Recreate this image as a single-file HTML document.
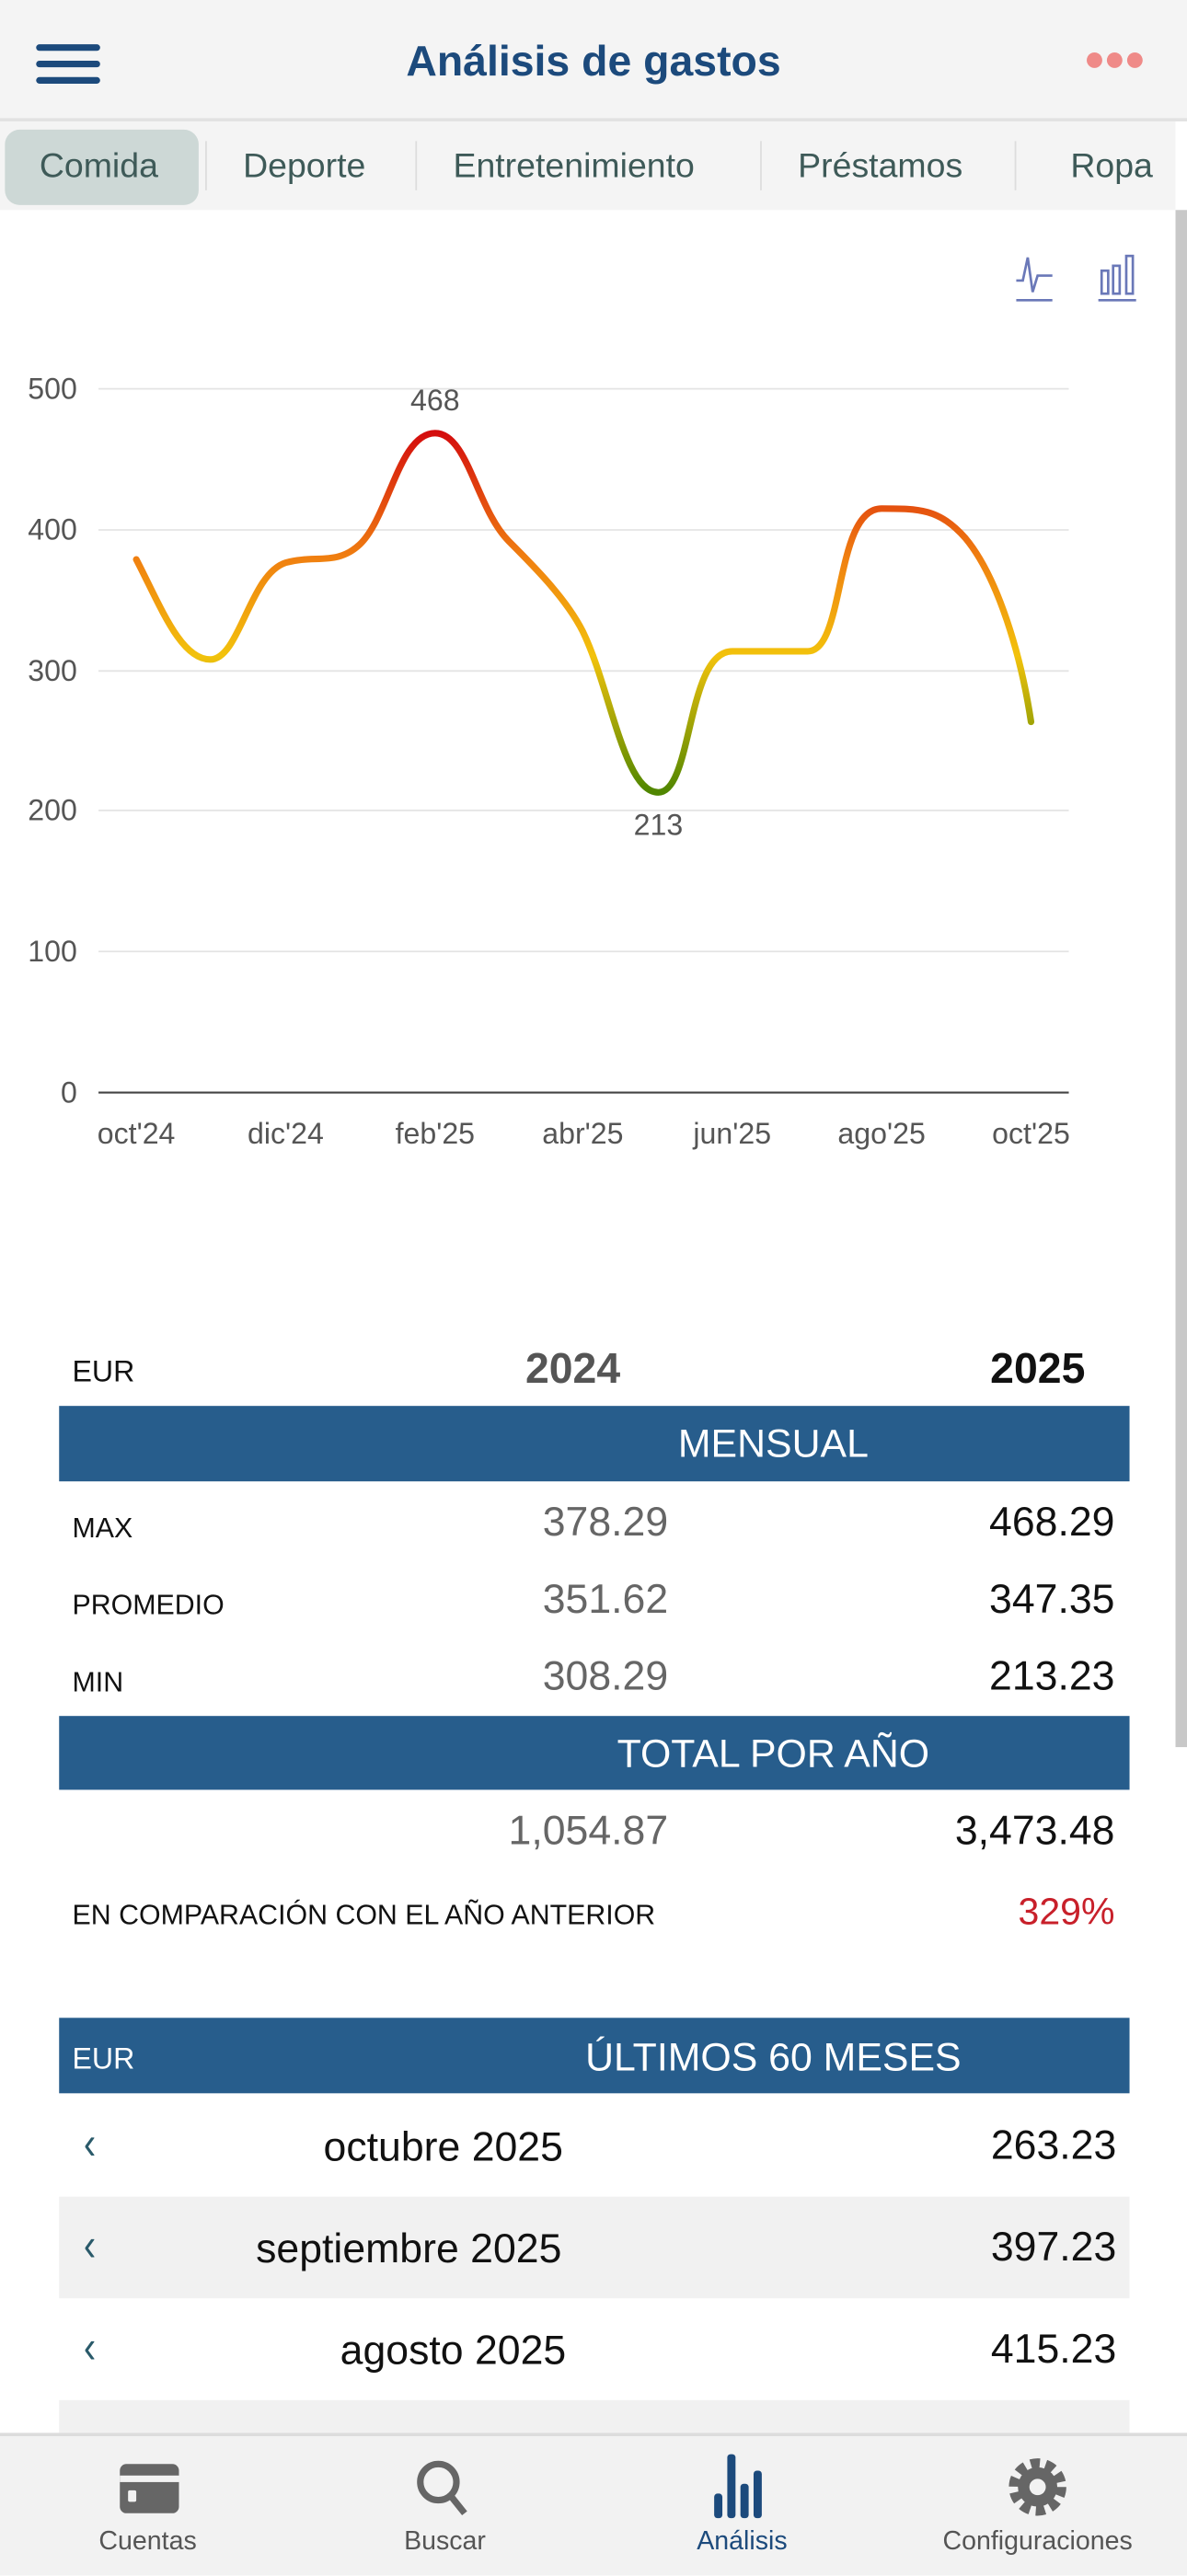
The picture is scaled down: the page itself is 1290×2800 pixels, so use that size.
<!DOCTYPE html>
<html><head><meta charset="utf-8"><style>
html,body{margin:0;padding:0;width:1290px;height:2796px;overflow:hidden;background:#fff}
#w{position:absolute;left:0;top:0;width:723px;height:1568px;transform-origin:0 0;transform:scale(1.78423,1.78316);font-family:"Liberation Sans",sans-serif}
.a{position:absolute}
.bar{position:absolute;left:36px;width:652px;background:#275d8c;color:#fff;font-size:24px}
.lab{position:absolute;left:44px;font-size:17px;color:#111}
.v1{position:absolute;right:316px;font-size:25px;color:#666}
.v2{position:absolute;right:44px;font-size:25px;color:#111}
.row{position:absolute;left:36px;width:652px;height:62px}
.chev{position:absolute;left:14px;top:14px;font-size:28px;color:#2a5a6a;transform:scaleX(0.8)}
.mon{position:absolute;left:0;width:468px;text-align:center;top:18px;font-size:25px;color:#111}
.amt{position:absolute;right:8px;top:17px;font-size:25px;color:#111}
.nav{position:absolute;top:1541px;font-size:16px;color:#555;text-align:center;width:180px}
</style></head><body><div id="w">
<div class="a" style="left:0;top:0;width:723px;height:72px;background:#f4f4f4;border-bottom:2px solid #e2e2e2"></div>
<div class="a" style="left:22px;top:27px;width:39px;height:4px;background:#1c4a7c;border-radius:2px"></div>
<div class="a" style="left:22px;top:37px;width:39px;height:4px;background:#1c4a7c;border-radius:2px"></div>
<div class="a" style="left:22px;top:47px;width:39px;height:4px;background:#1c4a7c;border-radius:2px"></div>
<div class="a" style="left:0;width:723px;top:22px;text-align:center;font-size:26px;font-weight:bold;color:#1c4a7c">Análisis de gastos</div>
<div class="a" style="left:660px;top:23px;font-size:22px;color:#ef8a88;letter-spacing:-1px">●●●</div>
<div class="a" style="left:0;top:74px;width:716px;height:54px;background:#f4f4f4"></div>
<div class="a" style="left:3px;top:79px;width:118px;height:46px;background:#cdd8d6;border-radius:9px"></div>
<div class="a" style="top:90px;left:24px;font-size:21px;color:#3e5a58">Comida</div>
<div class="a" style="top:90px;left:148px;font-size:21px;color:#3e5a58">Deporte</div>
<div class="a" style="top:90px;left:276px;font-size:21px;color:#3e5a58">Entretenimiento</div>
<div class="a" style="top:90px;left:486px;font-size:21px;color:#3e5a58">Préstamos</div>
<div class="a" style="top:90px;left:652px;font-size:21px;color:#3e5a58">Ropa</div>
<div class="a" style="left:125px;top:86px;width:1px;height:30px;background:#ddd"></div>
<div class="a" style="left:253px;top:86px;width:1px;height:30px;background:#ddd"></div>
<div class="a" style="left:463px;top:86px;width:1px;height:30px;background:#ddd"></div>
<div class="a" style="left:618px;top:86px;width:1px;height:30px;background:#ddd"></div>
<div class="a" style="left:716px;top:128px;width:7px;height:937px;background:#c8c8c8"></div>
<svg class="a" style="left:0;top:0" width="723" height="760">
<defs><linearGradient id="g" gradientUnits="userSpaceOnUse" x1="0" y1="264" x2="0" y2="483">
<stop offset="0" stop-color="#d40d0d"/><stop offset="0.35" stop-color="#f08010"/><stop offset="0.62" stop-color="#f2c20c"/><stop offset="1" stop-color="#4f8600"/></linearGradient></defs>
<g stroke="#6a78b8" stroke-width="1.5" fill="none"><path d="M619,171 L623,171 L626,157 L629,178 L632,168 L641,168"/><path d="M619,183 H641 M669,183 H692"/><rect x="671" y="165" width="4" height="14"/><rect x="678" y="162" width="4" height="17"/><rect x="686" y="156" width="4" height="23"/></g>
<g stroke="#e4e4e4" stroke-width="1"><line x1="60" y1="237" x2="651" y2="237"/><line x1="60" y1="323" x2="651" y2="323"/><line x1="60" y1="409" x2="651" y2="409"/><line x1="60" y1="494" x2="651" y2="494"/><line x1="60" y1="580" x2="651" y2="580"/></g>
<line x1="60" y1="666" x2="651" y2="666" stroke="#444" stroke-width="1.2"/>
<g font-size="18" fill="#555" text-anchor="end"><text x="47" y="243">500</text><text x="47" y="329">400</text><text x="47" y="415">300</text><text x="47" y="500">200</text><text x="47" y="586">100</text><text x="47" y="672">0</text></g>
<g font-size="18" fill="#555" text-anchor="middle"><text x="83" y="697">oct'24</text><text x="174" y="697">dic'24</text><text x="265" y="697">feb'25</text><text x="355" y="697">abr'25</text><text x="446" y="697">jun'25</text><text x="537" y="697">ago'25</text><text x="628" y="697">oct'25</text>
<text x="265" y="250">468</text><text x="401" y="509">213</text></g>
<path fill="none" stroke="url(#g)" stroke-width="4" stroke-linecap="round" d="M83,341 C98,370 110,402 128,402 C146,402 152,350 174,343 C192,338 205,345 219,332 C237,315 243,264 265,264 C285,264 290,310 310,330 C325,345 345,365 355,385 C372,420 380,483 401,483 C422,483 418,397 446,397 L492,397 C515,397 508,310 537,310 C560,310 572,310 588,328 C608,352 622,400 628,440"/>
</svg>
<div class="a" style="left:44px;top:826px;font-size:18px;color:#111">EUR</div>
<div class="a" style="left:320px;top:819px;font-size:26px;font-weight:bold;color:#555">2024</div>
<div class="a" style="right:62px;top:819px;font-size:26px;font-weight:bold;color:#111">2025</div>
<div class="bar" style="top:857px;height:46px"><div class="a" style="left:0;width:870px;text-align:center;top:10px">MENSUAL</div></div>
<div class="lab" style="top:922px">MAX</div><div class="v1" style="top:914px">378.29</div><div class="v2" style="top:914px">468.29</div>
<div class="lab" style="top:969px">PROMEDIO</div><div class="v1" style="top:961px">351.62</div><div class="v2" style="top:961px">347.35</div>
<div class="lab" style="top:1016px">MIN</div><div class="v1" style="top:1008px">308.29</div><div class="v2" style="top:1008px">213.23</div>
<div class="bar" style="top:1046px;height:45px"><div class="a" style="left:0;width:870px;text-align:center;top:10px">TOTAL POR AÑO</div></div>
<div class="v1" style="top:1102px">1,054.87</div><div class="v2" style="top:1102px">3,473.48</div>
<div class="lab" style="top:1158px">EN COMPARACIÓN CON EL AÑO ANTERIOR</div><div class="v2" style="top:1152px;color:#c8202a;font-size:23px">329%</div>
<div class="bar" style="top:1230px;height:46px"><div class="a" style="left:8px;top:15px;font-size:18px">EUR</div><div class="a" style="left:0;width:870px;text-align:center;top:11px">ÚLTIMOS 60 MESES</div></div>
<div class="row" style="top:1277px"><div class="chev">‹</div><div class="mon">octubre 2025</div><div class="amt">263.23</div></div>
<div class="row" style="top:1339px;background:#f1f1f1"><div class="chev">‹</div><div class="mon" style="left:-21px">septiembre 2025</div><div class="amt">397.23</div></div>
<div class="row" style="top:1401px"><div class="chev">‹</div><div class="mon" style="left:6px">agosto 2025</div><div class="amt">415.23</div></div>
<div class="row" style="top:1463px;height:20px;background:#f1f1f1"></div>
<div class="a" style="left:0;top:1483px;width:723px;height:85px;background:#f2f2f2;border-top:2px solid #dcdcdc"></div>
<div class="a" style="left:73px;top:1502px;width:36px;height:30px;background:#666;border-radius:4px"></div>
<div class="a" style="left:73px;top:1509px;width:36px;height:4px;background:#f2f2f2"></div>
<div class="a" style="left:78px;top:1518px;width:5px;height:7px;background:#f2f2f2;border-radius:1px"></div>
<svg class="a" style="left:250px;top:1496px" width="40" height="40"><circle cx="17" cy="17" r="11" fill="none" stroke="#666" stroke-width="4"/><line x1="25" y1="26" x2="33" y2="36" stroke="#666" stroke-width="4"/></svg>
<svg class="a" style="left:433px;top:1495px" width="40" height="45"><g fill="#1c4a7c"><rect x="2" y="25" width="5" height="15" rx="2"/><rect x="10" y="1" width="5" height="39" rx="2"/><rect x="18" y="19" width="5" height="21" rx="2"/><rect x="26" y="11" width="5" height="29" rx="2"/></g></svg>
<svg class="a" style="left:612px;top:1496px" width="40" height="40"><circle cx="20" cy="20" r="13" fill="none" stroke="#666" stroke-width="9" stroke-dasharray="5 3.2"/><circle cx="20" cy="20" r="12" fill="#666"/><circle cx="20" cy="20" r="5" fill="#f2f2f2"/></svg>
<div class="nav" style="left:0">Cuentas</div>
<div class="nav" style="left:181px">Buscar</div>
<div class="nav" style="left:362px;color:#1c4a7c">Análisis</div>
<div class="nav" style="left:542px;width:180px">Configuraciones</div>
</div></body></html>
